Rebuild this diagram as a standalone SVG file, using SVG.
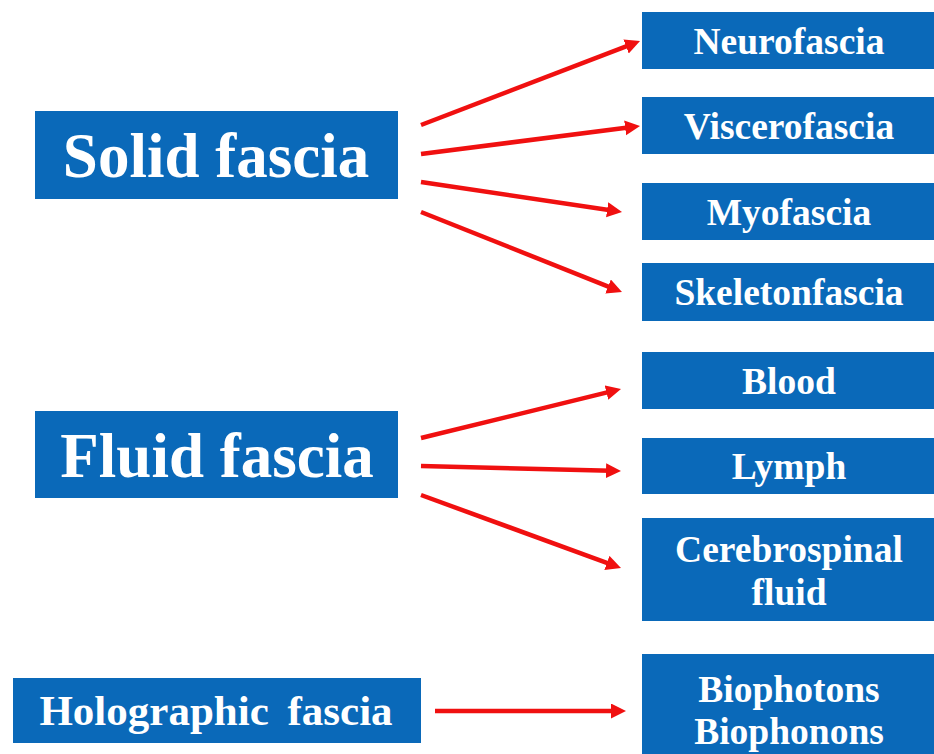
<svg xmlns="http://www.w3.org/2000/svg" width="934" height="754" viewBox="0 0 934 754">
<style>
.box{fill:#0A69B9;}
.t{fill:#fff;font-family:"Liberation Serif","Times New Roman",serif;font-weight:bold;text-anchor:middle;}
.big{font-size:63px;}
.mid{font-size:43px;word-spacing:8px;}
.sm{font-size:37.5px;}
.arr{stroke:#F01010;stroke-width:4.5;fill:none;marker-end:url(#ah);}
</style>
<defs>
<marker id="ah" markerUnits="userSpaceOnUse" markerWidth="18" markerHeight="18" refX="5" refY="7.5" orient="auto">
<path d="M0,0 L15,7.5 L0,15 z" fill="#F01010"/>
</marker>
</defs>
<rect width="934" height="754" fill="#fff"/>
<g id="solid"><rect class="box" x="35" y="111" width="363" height="88"/><text class="t big" x="216" y="177">Solid fascia</text></g>
<g id="fluid"><rect class="box" x="35" y="411" width="363" height="87"/><text class="t big" x="217" y="477">Fluid fascia</text></g>
<g id="holographic"><rect class="box" x="13" y="678" width="408" height="65"/><text class="t mid" x="216" y="725">Holographic fascia</text></g>
<g id="neuro"><rect class="box" x="642" y="12" width="292" height="57"/><text class="t sm" x="789" y="54">Neurofascia</text></g>
<g id="viscero"><rect class="box" x="642" y="97" width="292" height="57"/><text class="t sm" x="789" y="139">Viscerofascia</text></g>
<g id="myo"><rect class="box" x="642" y="183" width="292" height="57"/><text class="t sm" x="789" y="225">Myofascia</text></g>
<g id="skeleton"><rect class="box" x="642" y="263" width="292" height="58"/><text class="t sm" x="789" y="305">Skeletonfascia</text></g>
<g id="blood"><rect class="box" x="642" y="352" width="292" height="57"/><text class="t sm" x="789" y="394">Blood</text></g>
<g id="lymph"><rect class="box" x="642" y="438" width="292" height="56"/><text class="t sm" x="789" y="479">Lymph</text></g>
<g id="csf"><rect class="box" x="642" y="518" width="292" height="103"/><text class="t sm" x="789" y="562">Cerebrospinal</text><text class="t sm" x="789" y="605">fluid</text></g>
<g id="bio"><rect class="box" x="642" y="654" width="292" height="100"/><text class="t sm" x="789" y="702">Biophotons</text><text class="t sm" x="789" y="744">Biophonons</text></g>
<g id="connectors">
<line class="arr" x1="421" y1="125" x2="630.7" y2="44.6"/>
<line class="arr" x1="421" y1="154" x2="630.1" y2="127.3"/>
<line class="arr" x1="421" y1="182" x2="612.1" y2="210.5"/>
<line class="arr" x1="421" y1="212" x2="612.7" y2="288.3"/>
<line class="arr" x1="421" y1="438" x2="611.3" y2="391.4"/>
<line class="arr" x1="421" y1="466" x2="611" y2="470.75"/>
<line class="arr" x1="421" y1="495" x2="611.6" y2="564.6"/>
<line class="arr" x1="435" y1="711" x2="616" y2="711"/>
</g>
</svg>
